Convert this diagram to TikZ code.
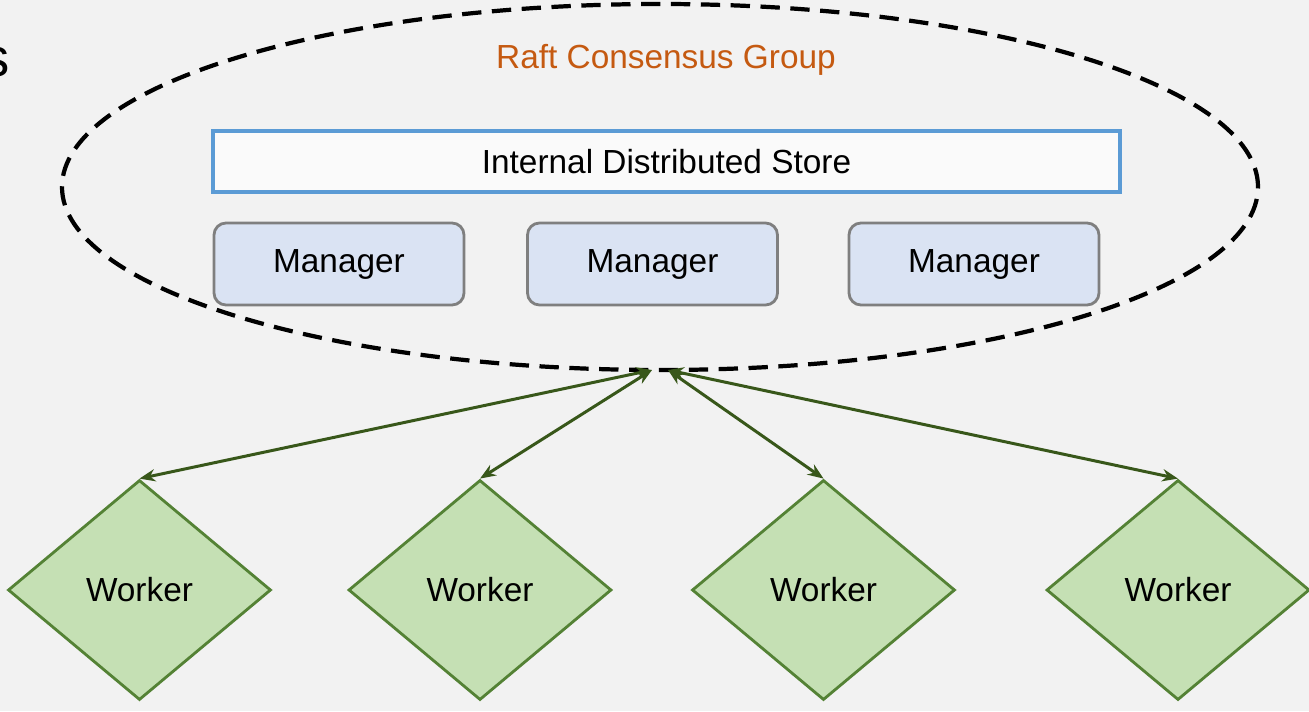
\documentclass[tikz,border=0pt]{standalone}
\usepackage{fontspec}
\setmainfont{Liberation Sans}
\usetikzlibrary{shapes.geometric,arrows.meta}
\definecolor{bgc}{HTML}{F2F2F2}
\definecolor{raft}{HTML}{C55A11}
\definecolor{storeblue}{HTML}{5B9BD5}
\definecolor{mgrfill}{HTML}{DAE3F3}
\definecolor{mgrline}{HTML}{7F7F7F}
\definecolor{wkfill}{HTML}{C5E0B4}
\definecolor{wkline}{HTML}{548235}
\definecolor{arr}{HTML}{38571A}
\begin{document}
\begin{tikzpicture}[>={Stealth[length=9pt,width=7pt]},
    txt/.style={font=\fontsize{19}{23}\selectfont},
    mgr/.style={txt, draw=mgrline, line width=1.6pt, fill=mgrfill, rounded corners=0.24cm,
        minimum width=5cm, minimum height=1.64cm},
    wk/.style={txt, diamond, draw=wkline, line width=1.6pt, fill=wkfill, inner sep=0pt,
        minimum width=5.26cm, minimum height=4.4cm},
    link/.style={<->, arr, line width=1.7pt}]
\fill[bgc](0,0) rectangle (26.18,14.22);
\useasboundingbox (0,0) rectangle (26.18,14.22);

\node[anchor=base east, inner sep=0pt, font=\fontsize{31}{36}\selectfont] (cut) at (0.2,12.68) {s};

\draw[line width=2.4pt, dash pattern=on 11pt off 6pt](13.2,10.48) ellipse (11.96 and 3.66);
\node[txt, text=raft] (raft) at (13.32,13.02) {Raft Consensus Group};

\node[txt, draw=storeblue, line width=1.8pt, fill=white!60!bgc, minimum width=18.14cm, minimum height=1.22cm]
    (store) at (13.33,10.99) {Internal Distributed Store};

\foreach \x [count=\i] in {6.78,13.05,19.48}
{
    \node[mgr] (mgr\i) at (\x,8.94) {Manager};
}

\coordinate (hubl) at (13.04,6.82);
\coordinate (hubr) at (13.36,6.82);

\foreach \x [count=\i] in {2.79,9.6,16.47,23.56}
{
    \node[wk] (wk\i) at (\x,2.42) {Worker};
}
\draw[link](wk1.north)--(hubl);
\draw[link](wk2.north)--(hubl);
\draw[link](wk3.north)--(hubr);
\draw[link](wk4.north)--(hubr);
\end{tikzpicture}
\end{document}
